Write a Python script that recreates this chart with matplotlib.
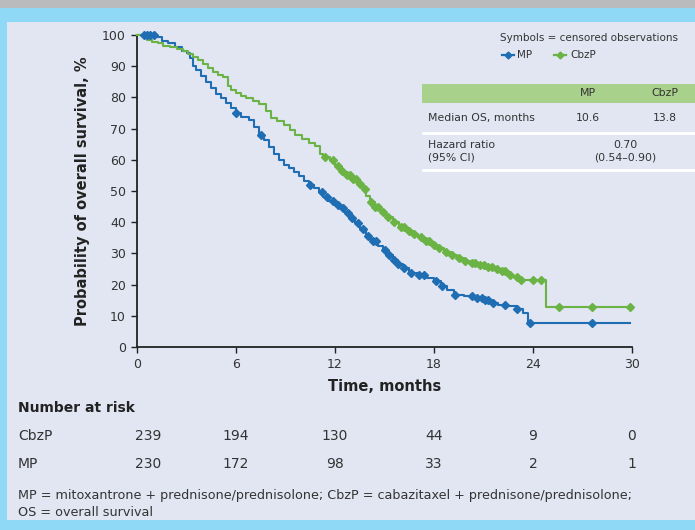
import matplotlib
matplotlib.use("Agg")
import matplotlib.pyplot as plt
import numpy as np
from matplotlib.patches import Rectangle
from matplotlib.lines import Line2D
import matplotlib.transforms as mtransforms

# ---------------- data ----------------
cbz_t = [0, 0.4, 0.6, 0.9, 1.3, 1.6, 2.0, 2.4, 2.8, 3.1, 3.4, 3.7, 4.0, 4.3, 4.6, 4.9,
         5.2, 5.5, 5.7, 6.0, 6.3, 6.6, 7.0, 7.4, 7.8, 8.1, 8.5, 8.9, 9.3, 9.6, 10.0,
         10.4, 10.8, 11.1, 11.3, 11.7, 12.0, 12.3, 12.6, 13.0, 13.4, 13.7, 13.9, 14.1,
         14.4, 14.8, 15.1, 15.5, 15.9, 16.3, 16.7, 17.0, 17.4, 17.8, 18.2, 18.6, 19.0,
         19.4, 19.8, 20.2, 20.7, 21.2, 21.6, 22.0, 22.4, 22.8, 23.2, 24.8, 29.9]
cbz_s = [100, 99.3, 98.3, 97.8, 97.3, 96.6, 96.0, 95.5, 94.8, 94.0, 93.0, 92.0, 90.8,
         89.5, 88.3, 87.3, 86.5, 83.5, 82.5, 81.5, 80.5, 79.7, 78.8, 77.8, 75.5, 73.5,
         72.5, 71.3, 69.5, 67.8, 66.6, 65.5, 64.3, 62.0, 60.8, 59.8, 58.0, 56.5, 55.0,
         53.8, 52.2, 50.5, 48.5, 46.5, 45.0, 43.2, 41.8, 40.2, 38.6, 37.3, 36.2, 35.2,
         34.0, 32.8, 31.6, 30.6, 29.4, 28.4, 27.6, 26.8, 26.2, 25.6, 25.0, 24.2, 23.2,
         22.4, 21.5, 12.8, 12.8]
cbz_cens = [11.4, 11.9, 12.2, 12.4, 12.7, 12.9, 13.1, 13.3, 13.5, 13.8, 14.2, 14.4, 14.6,
            14.9, 15.2, 15.6, 16.0, 16.2, 16.5, 16.8, 17.2, 17.5, 17.7, 18.0, 18.3, 18.7,
            19.1, 19.5, 19.9, 20.3, 20.5, 20.8, 21.0, 21.3, 21.5, 21.8, 22.1, 22.3, 22.6,
            23.0, 23.3, 24.0, 24.5, 25.6, 27.6, 29.9]

mp_t = [0, 1.2, 1.5, 1.9, 2.3, 2.7, 3.0, 3.2, 3.4, 3.6, 3.9, 4.2, 4.5, 4.8, 5.1, 5.4,
        5.7, 6.0, 6.3, 6.8, 7.1, 7.4, 7.7, 8.0, 8.3, 8.6, 8.9, 9.2, 9.5, 9.8, 10.1,
        10.4, 10.7, 11.0, 11.3, 11.6, 12.0, 12.3, 12.6, 12.9, 13.2, 13.5, 13.9, 14.2,
        14.6, 14.9, 15.2, 15.5, 15.8, 16.1, 16.5, 17.0, 17.6, 18.0, 18.4, 18.8, 19.2,
        19.8, 20.4, 21.0, 21.5, 21.9, 22.5, 23.0, 23.4, 23.7, 29.9]
mp_s = [100, 99.2, 98.2, 97.4, 96.3, 95.0, 94.2, 92.5, 90.2, 88.8, 87.0, 85.0, 83.0,
        81.0, 79.8, 78.3, 76.5, 75.0, 73.8, 72.8, 70.5, 68.0, 66.3, 64.2, 62.0, 59.8,
        58.3, 57.3, 56.0, 54.8, 53.3, 52.0, 51.0, 49.6, 48.2, 46.8, 45.5, 44.4, 42.8,
        41.5, 39.6, 37.8, 35.6, 34.0, 32.5, 31.1, 29.6, 27.8, 26.6, 25.2, 23.8, 23.0,
        22.0, 21.0, 19.5, 18.3, 16.8, 16.3, 15.6, 15.0, 14.0, 13.5, 13.0, 12.3, 11.0,
        7.8, 7.8]
mp_cens = [0.4, 0.6, 0.8, 1.0, 6.0, 7.5, 10.5, 11.2, 11.5, 11.9, 12.2, 12.5, 12.8, 13.0,
           13.4, 13.7, 14.0, 14.3, 14.5, 15.0, 15.3, 15.6, 15.8, 16.2, 16.6, 17.1, 17.4,
           18.1, 18.5, 19.3, 20.3, 20.6, 20.9, 21.1, 21.3, 21.6, 22.3, 23.0, 23.8, 27.6]

risk_times = [0, 6, 12, 18, 24, 30]
risk_cbz = ["239", "194", "130", "44", "9", "0"]
risk_mp = ["230", "172", "98", "33", "2", "1"]

x_ticks = [0, 6, 12, 18, 24, 30]
y_ticks = list(range(0, 101, 10))

median_os = {"MP": "10.6", "CbzP": "13.8"}
hazard = ("0.70", "(0.54–0.90)")

BLUE = "#1f6db3"
GREEN = "#6ab344"
PANEL = "#e1e6f2"
BORDER = "#8fd9f6"

W, H = 695, 530
fig = plt.figure(figsize=(W / 100, H / 100), dpi=100, facecolor=BORDER)

def fx(px):
    return px / W

def fy(py):
    return 1 - py / H

# background panel and top bar
fig.patches.append(Rectangle((fx(7), fy(520)), fx(695) - fx(7), fy(22) - fy(520),
                             transform=fig.transFigure, facecolor=PANEL, edgecolor="none", zorder=-10))
fig.patches.append(Rectangle((0, fy(8)), 1, 1 - fy(8), transform=fig.transFigure,
                             facecolor="#b9bbbd", edgecolor="none", zorder=-10))

# table decorations
fig.patches.append(Rectangle((fx(422), fy(103)), fx(695) - fx(422), fy(84) - fy(103),
                             transform=fig.transFigure, facecolor="#a8d18c", edgecolor="none", zorder=-9))
for yy in (133, 170):
    fig.add_artist(Line2D([fx(423), fx(695)], [fy(yy), fy(yy)], color="white", lw=2,
                          transform=fig.transFigure, zorder=-9))

ax = fig.add_axes([fx(137), fy(347), fx(632) - fx(137), fy(35) - fy(347)])
ax.set_zorder(1)
ax.patch.set_visible(False)

def step_val(ts, ss, t):
    idx = np.searchsorted(np.array(ts), t, side="right") - 1
    return np.array(ss)[idx]

for ts, ss, cens, col in ((mp_t, mp_s, mp_cens, BLUE), (cbz_t, cbz_s, cbz_cens, GREEN)):
    ax.plot(ts, ss, drawstyle="steps-post", color=col, lw=1.5, zorder=3, clip_on=False)
    cy = [step_val(ts, ss, c) for c in cens]
    ax.plot(cens, cy, linestyle="none", marker="D", ms=3.6, color=col, mec=col, zorder=4,
            clip_on=False)

ax.set_xlim(0, 30)
ax.set_ylim(0, 100)
ax.set_xticks(x_ticks)
ax.set_yticks(y_ticks)
for s in ("top", "right"):
    ax.spines[s].set_visible(False)
for s in ("left", "bottom"):
    ax.spines[s].set_linewidth(1.3)
    ax.spines[s].set_color("#222222")
ax.tick_params(axis="both", direction="out", length=4, width=1, color="#222222",
               labelsize=9, labelcolor="#333333", pad=4)
ax.set_xlabel("Time, months", fontsize=10.5, fontweight="bold", color="#222222", labelpad=6)
ax.set_ylabel("Probability of overall survival, %", fontsize=10.5, fontweight="bold",
              color="#222222", labelpad=9)

# legend text
fig.text(fx(500), fy(38), "Symbols = censored observations", fontsize=7.5, color="#333333",
         va="center", ha="left")
for x0, x1, lab, col in ((502, 517, "MP", BLUE), (554, 570, "CbzP", GREEN)):
    fig.add_artist(Line2D([fx(x0), fx(x0 + 12)], [fy(55), fy(55)], color=col, lw=1.6,
                          transform=fig.transFigure))
    fig.add_artist(Line2D([fx(x0 + 6)], [fy(55)], color=col, marker="D", ms=3.5,
                          transform=fig.transFigure))
    fig.text(fx(x1), fy(55), lab, fontsize=7.5, color="#333333", va="center", ha="left")

# table text
tfs = 7.8
fig.text(fx(588), fy(93), "MP", fontsize=tfs, color="#333333", ha="center", va="center")
fig.text(fx(665), fy(93), "CbzP", fontsize=tfs, color="#333333", ha="center", va="center")
fig.text(fx(428), fy(118), "Median OS, months", fontsize=tfs, color="#333333", ha="left", va="center")
fig.text(fx(588), fy(118), median_os["MP"], fontsize=tfs, color="#333333", ha="center", va="center")
fig.text(fx(665), fy(118), median_os["CbzP"], fontsize=tfs, color="#333333", ha="center", va="center")
fig.text(fx(428), fy(145), "Hazard ratio", fontsize=tfs, color="#333333", ha="left", va="center")
fig.text(fx(428), fy(158), "(95% CI)", fontsize=tfs, color="#333333", ha="left", va="center")
fig.text(fx(625), fy(145), hazard[0], fontsize=tfs, color="#333333", ha="center", va="center")
fig.text(fx(625), fy(158), hazard[1], fontsize=tfs, color="#333333", ha="center", va="center")

# number at risk
fig.text(fx(18), fy(408), "Number at risk", fontsize=10, fontweight="bold", color="#222222",
         ha="left", va="center")
trans = mtransforms.blended_transform_factory(ax.transData, fig.transFigure)
for label, vals, yy in (("CbzP", risk_cbz, 436), ("MP", risk_mp, 464)):
    fig.text(fx(18), fy(yy), label, fontsize=10, color="#333333", ha="left", va="center")
    for i, (t, v) in enumerate(zip(risk_times, vals)):
        xpos = t + (0.65 if i == 0 else 0)
        ax.text(xpos, fy(yy), v, transform=trans, fontsize=10, color="#333333",
                ha="center", va="center", clip_on=False)

fig.text(fx(18), fy(496), "MP = mitoxantrone + prednisone/prednisolone; CbzP = cabazitaxel + prednisone/prednisolone;",
         fontsize=9.2, color="#333333", ha="left", va="center")
fig.text(fx(18), fy(513), "OS = overall survival", fontsize=9.2, color="#333333", ha="left", va="center")

fig.savefig("out.png", dpi=100, facecolor=fig.get_facecolor())
